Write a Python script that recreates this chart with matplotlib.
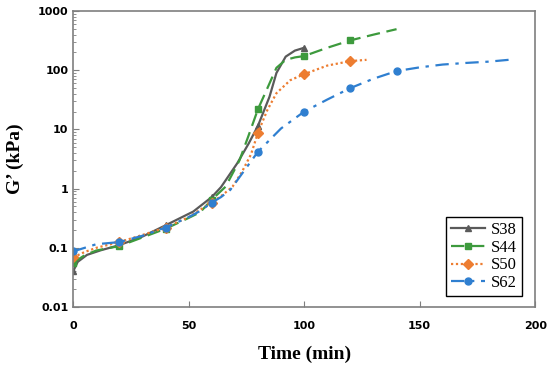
import matplotlib
matplotlib.use("Agg")
import matplotlib.pyplot as plt
from matplotlib.ticker import LogLocator, FixedLocator, FixedFormatter, NullFormatter

# curves (time in min, G' in kPa)
s38_t = [0, 2, 6, 12, 20, 30, 40, 52, 60, 64, 71, 76, 80, 85, 88, 92, 96, 100]
s38_g = [0.04, 0.058, 0.076, 0.091, 0.111, 0.155, 0.24, 0.41, 0.72, 1.06, 2.67, 5.8, 11.5, 35.7, 90, 170, 215, 240]
s38_mk = [0, 20, 40, 60, 80, 100]

s44_t = [0, 5, 10, 20, 30, 40, 50, 55, 60, 66, 72, 76, 80, 84, 88, 92, 96, 100, 110, 120, 130, 140]
s44_g = [0.056, 0.075, 0.09, 0.107, 0.15, 0.21, 0.32, 0.4, 0.65, 1.08, 3.0, 8.0, 22, 49, 110, 150, 165, 174, 240, 320, 400, 495]
s44_mk = [0, 20, 40, 60, 80, 100, 120]

s50_t = [0, 5, 10, 20, 30, 40, 50, 55, 60, 65, 69, 73, 77, 80, 84, 88, 94, 100, 110, 120, 127]
s50_g = [0.069, 0.085, 0.1, 0.125, 0.165, 0.22, 0.33, 0.44, 0.58, 0.8, 1.08, 1.9, 3.8, 8.8, 21, 41, 68, 86, 120, 143, 150]
s50_mk = [0, 20, 40, 60, 80, 100, 120]

s62_t = [0, 5, 10, 20, 30, 40, 50, 55, 60, 64, 68, 74, 80, 90, 100, 110, 120, 130, 140, 150, 160, 170, 180, 190]
s62_g = [0.087, 0.1, 0.115, 0.125, 0.16, 0.22, 0.33, 0.42, 0.58, 0.72, 0.95, 2.0, 4.2, 10.4, 20, 32, 50, 72, 97, 112, 125, 133, 140, 152]
s62_mk = [0, 20, 40, 60, 80, 100, 120, 140]

y_ticks = [0.01, 0.1, 1, 10, 100, 1000]
y_labels = ["0.01", "0.1", "1", "10", "100", "1000"]

series = [
    ("S38", s38_t, s38_g, s38_mk, "#5a5a5a", "-", "^"),
    ("S44", s44_t, s44_g, s44_mk, "#3d9a3d", (0, (6, 3)), "s"),
    ("S50", s50_t, s50_g, s50_mk, "#ed7d31", (0, (1, 1.2)), "D"),
    ("S62", s62_t, s62_g, s62_mk, "#2f7fd0", (0, (6, 3, 1.5, 3)), "o"),
]

fig = plt.figure(figsize=(5.5, 3.76), dpi=100)
ax = fig.add_axes([0.133, 0.1835, 0.840, 0.787])

for name, t, g, mk, col, ls, m in series:
    idx = [t.index(v) for v in mk]
    ax.plot(t, g, color=col, linestyle=ls, linewidth=1.6, marker=m,
            markersize=5, markevery=idx, label=name)

ax.set_yscale("log")
ax.set_xlim(0, 200)
ax.set_ylim(0.01, 1000)
ax.yaxis.set_major_locator(FixedLocator(y_ticks))
ax.yaxis.set_major_formatter(FixedFormatter(y_labels))
ax.yaxis.set_minor_locator(LogLocator(base=10, subs=range(2, 10)))
ax.yaxis.set_minor_formatter(NullFormatter())
ax.set_xticks([0, 50, 100, 150, 200])

for sp in ax.spines.values():
    sp.set_color("#7f7f7f")
    sp.set_linewidth(1.2)
ax.tick_params(axis="both", which="both", direction="in", colors="#7f7f7f",
               labelcolor="black")
ax.tick_params(axis="y", which="major", length=4, labelsize=8)
ax.tick_params(axis="y", which="minor", length=2)
ax.tick_params(axis="x", which="major", length=4, labelsize=8, pad=10)
for lab in ax.get_xticklabels() + ax.get_yticklabels():
    lab.set_fontweight("bold")

ax.set_xlabel("Time (min)", family="Liberation Serif", fontweight="bold",
              fontsize=14, labelpad=11)
ax.set_ylabel("G’ (kPa)", family="Liberation Serif", fontweight="bold",
              fontsize=14, labelpad=10)

leg = ax.legend(loc="lower right", bbox_to_anchor=(0.972, 0.037),
                borderaxespad=0,
                prop={"family": "Liberation Serif", "size": 12},
                fancybox=False, edgecolor="black", framealpha=1,
                handlelength=2.0, handletextpad=0.4, borderpad=0.3,
                labelspacing=0.1)
leg.get_frame().set_linewidth(1.0)

fig.savefig("out.png", dpi=100)
